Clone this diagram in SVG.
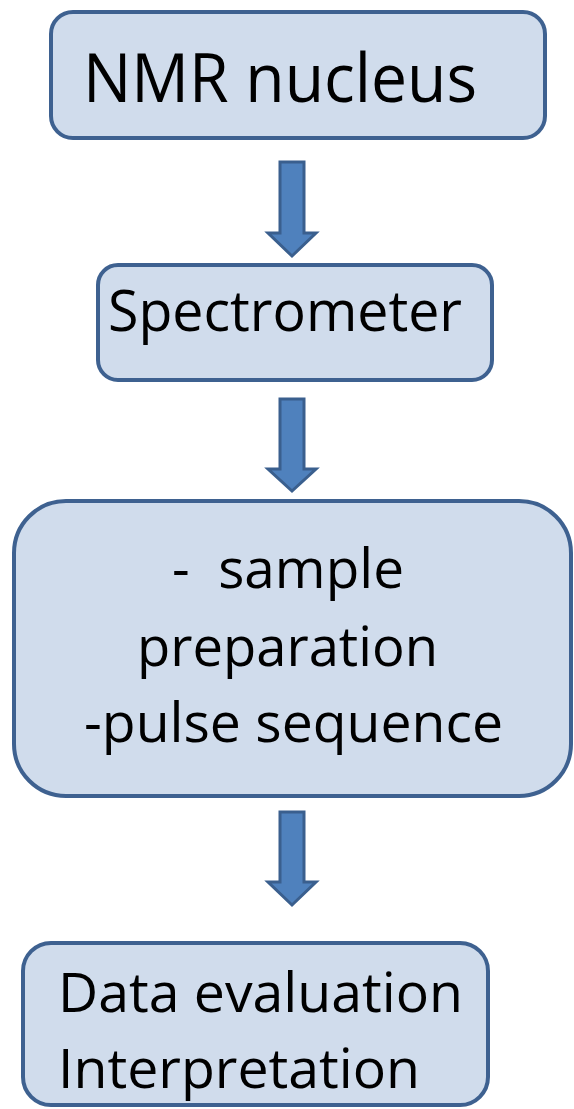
<svg xmlns="http://www.w3.org/2000/svg" width="574" height="1109" viewBox="0 0 574 1109">
<style>
.box{fill:#d0dcec;stroke:#3e6190;stroke-width:4}
.arr{fill:#4f81bd;stroke:#3a5f8e;stroke-width:3;stroke-linejoin:miter}
text{font-family:"Open Sans","DejaVu Sans",sans-serif;fill:#000}
</style>
<rect width="574" height="1109" fill="#fff"/>
<g id="node-nmr">
<rect class="box" x="51" y="12" width="494" height="126" rx="22"/>
<text x="83" y="102" font-size="68" textLength="394" lengthAdjust="spacingAndGlyphs">NMR nucleus</text>
</g>
<g id="node-spectrometer">
<rect class="box" x="98" y="265" width="394" height="115" rx="20"/>
<text x="108" y="331" font-size="57" textLength="354" lengthAdjust="spacingAndGlyphs">Spectrometer</text>
</g>
<g id="node-sample">
<rect class="box" x="14" y="501" width="557" height="295" rx="52"/>
<text x="172" y="588" font-size="55" textLength="232" lengthAdjust="spacingAndGlyphs" xml:space="preserve">-  sample</text>
<text x="137" y="666" font-size="55" textLength="301" lengthAdjust="spacingAndGlyphs">preparation</text>
<text x="84" y="742" font-size="55" textLength="419" lengthAdjust="spacingAndGlyphs">-pulse sequence</text>
</g>
<g id="node-data">
<rect class="box" x="23" y="943" width="465" height="162" rx="28"/>
<text x="58" y="1012" font-size="55" textLength="405" lengthAdjust="spacingAndGlyphs">Data evaluation</text>
<text x="58" y="1088" font-size="55" textLength="362" lengthAdjust="spacingAndGlyphs">Interpretation</text>
</g>
<g id="connectors">
<path class="arr" d="M280 162 H304 V233 H316 L292 256 L268 233 H280 Z"/>
<path class="arr" d="M280 399 H304 V469 H316 L292 491 L268 469 H280 Z"/>
<path class="arr" d="M280 812 H304 V882 H316 L292 905 L268 882 H280 Z"/>
</g>
</svg>
